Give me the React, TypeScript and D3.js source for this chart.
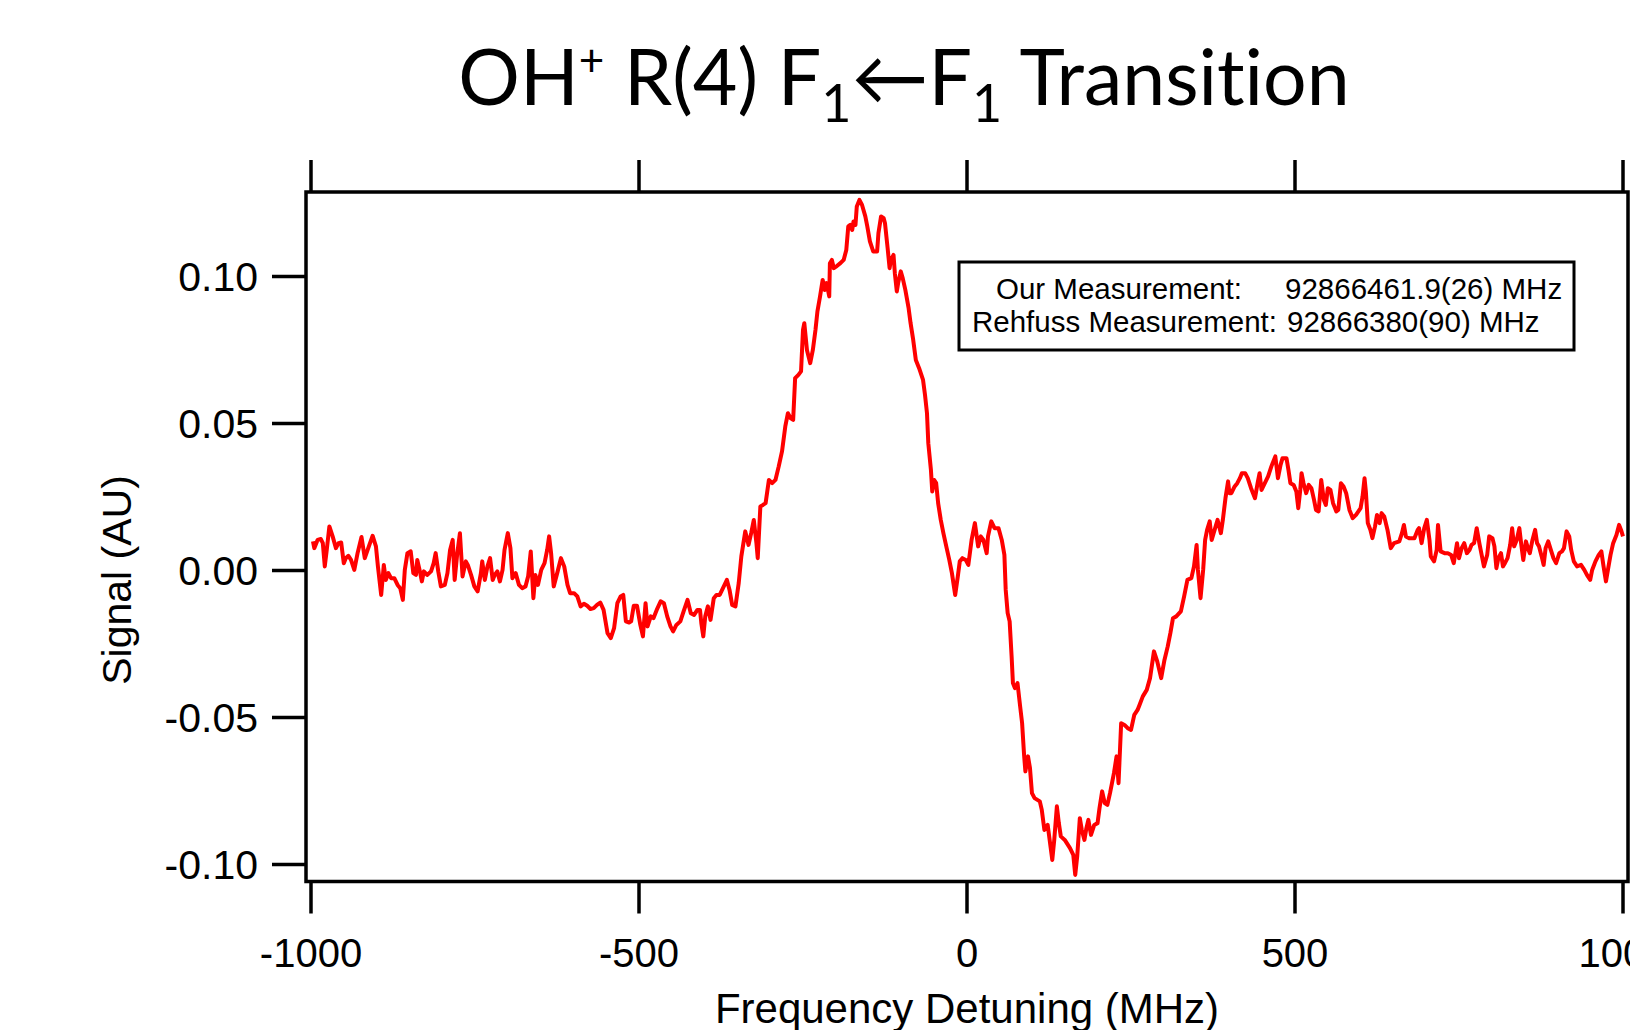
import React, { useEffect, useRef } from 'react';
import * as d3 from 'd3';

// [frequency detuning (MHz), signal (AU)]
const trace: [number, number][] = [
  [-997, 0.0099], [-995, 0.0076], [-990, 0.0104], [-985, 0.0107], [-982, 0.0093], [-979, 0.0014],
  [-976, 0.007], [-972, 0.015], [-967, 0.0116], [-962, 0.0076], [-958, 0.0093], [-954, 0.0095],
  [-950, 0.0025], [-947, 0.0042], [-943, 0.005], [-939, 0.0036], [-934, 0.0002], [-929, 0.0059],
  [-923, 0.0114], [-918, 0.0042], [-911, 0.0087], [-906, 0.0118], [-901, 0.0082], [-898, 0.0014],
  [-893, -0.0083], [-889, 0.0019], [-886, -0.0032], [-882, -0.0009], [-878, -0.0026], [-873, -0.0026],
  [-868, -0.0049], [-864, -0.006], [-860, -0.01], [-857, 0.0002], [-853, 0.0059], [-848, 0.0065],
  [-844, -0.0009], [-840, -0.0015], [-838, 0.0036], [-834, -0.0003], [-831, -0.0037], [-828, -0.0003],
  [-823, -0.0015], [-817, -0.0003], [-813, 0.0025], [-810, 0.0059], [-806, -0.0003], [-802, -0.0054],
  [-796, -0.0049], [-792, -0.0009], [-788, 0.007], [-784, 0.0104], [-781, -0.0032], [-777, 0.0059],
  [-773, 0.0127], [-769, -0.002], [-764, 0.0031], [-761, 0.0019], [-756, -0.0015], [-751, -0.0054],
  [-746, -0.0071], [-741, -0.0009], [-739, 0.0031], [-735, -0.0032], [-731, 0.0014], [-727, 0.0042],
  [-723, -0.0032], [-720, -0.0015], [-716, -0.0003], [-712, -0.0037], [-708, 0.0002], [-705, 0.007],
  [-700, 0.0127], [-696, 0.0076], [-693, -0.0026], [-688, -0.0009], [-683, -0.0049], [-678, -0.006],
  [-673, -0.0054], [-669, -0.002], [-665, 0.0065], [-661, -0.0094], [-658, -0.0015], [-654, -0.0049],
  [-649, 0.0002], [-644, 0.0025], [-640, 0.007], [-637, 0.0116], [-634, 0.0059], [-630, -0.0054],
  [-624, -0.0003], [-619, 0.0042], [-614, 0.0014], [-609, -0.0049], [-605, -0.0077], [-599, -0.0077],
  [-594, -0.0088], [-589, -0.0122], [-584, -0.0113], [-579, -0.012], [-574, -0.0131], [-569, -0.0128],
  [-564, -0.0117], [-559, -0.0109], [-554, -0.0134], [-548, -0.0213], [-543, -0.023], [-538, -0.0196],
  [-533, -0.0111], [-528, -0.0088], [-524, -0.0083], [-520, -0.0173], [-515, -0.0177], [-512, -0.0173],
  [-508, -0.012], [-503, -0.012], [-498, -0.0185], [-494, -0.0224], [-490, -0.0111], [-487, -0.019],
  [-482, -0.0156], [-478, -0.0162], [-473, -0.0134], [-467, -0.0105], [-462, -0.0111], [-457, -0.0156],
  [-452, -0.019], [-448, -0.0207], [-443, -0.0185], [-437, -0.0173], [-432, -0.0139], [-426, -0.01],
  [-421, -0.0145], [-416, -0.0151], [-411, -0.0134], [-407, -0.0134], [-405, -0.0179], [-402, -0.0224],
  [-399, -0.0156], [-395, -0.0122], [-391, -0.0168], [-386, -0.0094], [-382, -0.0083], [-377, -0.0083],
  [-372, -0.006], [-366, -0.0032], [-362, -0.0066], [-358, -0.0117], [-353, -0.0122], [-348, -0.0043],
  [-344, 0.0048], [-338, 0.0133], [-333, 0.0087], [-329, 0.0127], [-325, 0.0172], [-321, 0.0093],
  [-319, 0.0042], [-315, 0.0218], [-311, 0.0223], [-307, 0.0229], [-302, 0.0308], [-297, 0.0297],
  [-292, 0.0308], [-287, 0.0354], [-282, 0.0405], [-277, 0.049], [-273, 0.0535], [-269, 0.0518],
  [-265, 0.0512], [-262, 0.0654], [-257, 0.0665], [-253, 0.0677], [-250, 0.0818], [-248, 0.0841],
  [-244, 0.075], [-239, 0.0705], [-235, 0.075], [-231, 0.0818], [-228, 0.0881], [-224, 0.0932],
  [-220, 0.0988], [-217, 0.0954], [-214, 0.0977], [-210, 0.0932], [-209, 0.1045], [-206, 0.1056],
  [-203, 0.1028], [-198, 0.1036], [-193, 0.1045], [-188, 0.1056], [-184, 0.109], [-181, 0.117],
  [-178, 0.1175], [-175, 0.1158], [-173, 0.1187], [-170, 0.1175], [-168, 0.1238], [-164, 0.126],
  [-160, 0.1243], [-155, 0.1204], [-152, 0.117], [-148, 0.1119], [-143, 0.1085], [-137, 0.1085],
  [-135, 0.1147], [-131, 0.1204], [-127, 0.1198], [-125, 0.1181], [-121, 0.1096], [-118, 0.1028],
  [-116, 0.1056], [-112, 0.1073], [-110, 0.1011], [-107, 0.0949], [-105, 0.0977], [-101, 0.1017],
  [-98, 0.0994], [-94, 0.0954], [-89, 0.0892], [-86, 0.0841], [-82, 0.0784], [-78, 0.0716],
  [-73, 0.0688], [-67, 0.0648], [-64, 0.0597], [-61, 0.0535], [-59, 0.0433], [-55, 0.0342],
  [-53, 0.0269], [-50, 0.0308], [-47, 0.0297], [-44, 0.0229], [-40, 0.0172], [-36, 0.0127],
  [-31, 0.0076], [-27, 0.0036], [-23, -0.0009], [-18, -0.0083], [-14, -0.002], [-11, 0.0031],
  [-7, 0.0042], [-2, 0.0036], [2, 0.0019], [7, 0.0104], [12, 0.0161], [17, 0.0082],
  [21, 0.0116], [25, 0.0104], [30, 0.0059], [32, 0.0116], [37, 0.0167], [42, 0.0144],
  [48, 0.0144], [53, 0.0104], [57, 0.0053], [59, -0.0066], [62, -0.0145], [65, -0.0173],
  [68, -0.0292], [70, -0.0383], [73, -0.04], [77, -0.0383], [81, -0.0462], [84, -0.0519],
  [87, -0.0627], [89, -0.0683], [93, -0.0632], [96, -0.0672], [99, -0.0757], [103, -0.0774],
  [111, -0.0785], [114, -0.0814], [118, -0.0882], [123, -0.0865], [126, -0.0916], [130, -0.0984],
  [133, -0.0916], [137, -0.0802], [140, -0.0859], [143, -0.0904], [149, -0.0916], [157, -0.0944],
  [162, -0.0967], [165, -0.1035], [168, -0.0972], [172, -0.0842], [175, -0.0882], [179, -0.0916],
  [182, -0.0876], [185, -0.0848], [189, -0.0899], [194, -0.0865], [199, -0.0859], [202, -0.0808],
  [206, -0.0751], [210, -0.0791], [214, -0.0797], [218, -0.0757], [221, -0.0723], [224, -0.0689],
  [228, -0.0632], [231, -0.0723], [235, -0.0519], [240, -0.0525], [245, -0.0536], [250, -0.0542],
  [255, -0.0491], [260, -0.0474], [263, -0.0457], [268, -0.0428], [274, -0.0406], [279, -0.0366],
  [285, -0.0275], [290, -0.0309], [296, -0.0366], [301, -0.0304], [306, -0.0258], [310, -0.0213],
  [314, -0.0162], [319, -0.0156], [326, -0.0139], [331, -0.0088], [336, -0.0032], [342, -0.0026],
  [346, 0.0014], [350, 0.0087], [352, 0.0002], [356, -0.0094], [360, 0.0002], [363, 0.0104],
  [366, 0.0138], [370, 0.0167], [373, 0.0104], [376, 0.0127], [382, 0.0172], [387, 0.0127],
  [390, 0.0172], [394, 0.0246], [398, 0.0303], [400, 0.0263], [403, 0.0263], [408, 0.0286],
  [412, 0.0297], [416, 0.0314], [419, 0.0331], [424, 0.0331], [428, 0.0314], [433, 0.028],
  [439, 0.0246], [443, 0.0297], [446, 0.0331], [449, 0.0274], [454, 0.0297], [459, 0.032],
  [464, 0.0354], [470, 0.0388], [474, 0.0314], [478, 0.0359], [481, 0.0382], [487, 0.0382],
  [490, 0.0342], [493, 0.0297], [498, 0.0291], [502, 0.0269], [505, 0.0212], [508, 0.0274],
  [510, 0.0331], [513, 0.0297], [517, 0.0263], [521, 0.0291], [525, 0.028], [529, 0.024],
  [532, 0.0206], [536, 0.0201], [540, 0.0308], [544, 0.024], [547, 0.0223], [550, 0.028],
  [554, 0.0274], [558, 0.0229], [563, 0.0201], [566, 0.0206], [570, 0.0297], [574, 0.0286],
  [578, 0.0263], [583, 0.0206], [588, 0.0178], [593, 0.0189], [600, 0.0212], [603, 0.0252],
  [606, 0.0314], [608, 0.0269], [611, 0.0161], [615, 0.0138], [618, 0.011], [622, 0.015],
  [625, 0.0189], [629, 0.0161], [632, 0.0195], [636, 0.0184], [641, 0.0138], [646, 0.0076],
  [651, 0.0093], [659, 0.0099], [663, 0.0127], [666, 0.0155], [669, 0.0116], [674, 0.011],
  [682, 0.011], [687, 0.0138], [689, 0.0144], [693, 0.0093], [697, 0.0144], [701, 0.0172],
  [705, 0.0104], [707, 0.0048], [712, 0.0031], [716, 0.007], [718, 0.0155], [722, 0.0065],
  [728, 0.0059], [733, 0.0059], [738, 0.0053], [742, 0.0025], [747, 0.0093], [750, 0.0042],
  [754, 0.0076], [758, 0.0093], [762, 0.0059], [766, 0.007], [769, 0.0087], [773, 0.0093],
  [777, 0.0144], [781, 0.0093], [784, 0.0059], [788, 0.0014], [793, 0.0053], [796, 0.0116],
  [801, 0.011], [804, 0.0082], [807, 0.0008], [810, 0.0042], [814, 0.0059], [817, 0.0014],
  [820, 0.0025], [824, 0.0042], [828, 0.0087], [831, 0.0144], [834, 0.0082], [838, 0.0104],
  [842, 0.0144], [845, 0.0087], [848, 0.0036], [852, 0.0099], [855, 0.0076], [858, 0.0059],
  [862, 0.0104], [866, 0.0138], [869, 0.0093], [872, 0.0082], [876, 0.0048], [879, 0.0019],
  [882, 0.0076], [886, 0.0099], [890, 0.007], [894, 0.0042], [898, 0.0025], [903, 0.0059],
  [907, 0.0065], [910, 0.0076], [914, 0.0133], [918, 0.0116], [921, 0.007], [925, 0.0031],
  [930, 0.0014], [936, 0.0019], [941, 0.0002], [945, -0.0015], [950, -0.0032], [953, 0.0002],
  [958, 0.0031], [963, 0.0053], [967, 0.0065], [970, 0.0019], [974, -0.0037], [977, 0.0002],
  [981, 0.0053], [985, 0.0093], [990, 0.0121], [994, 0.0155], [997, 0.0138], [1000, 0.0116],
];

const xTicks = [-1000, -500, 0, 500, 1000];
const yTicks = [-0.1, -0.05, 0, 0.05, 0.1];

const legendLines = [
  { label: 'Our Measurement:', value: '92866461.9(26) MHz' },
  { label: 'Rehfuss Measurement:', value: '92866380(90) MHz' },
];

const W = 1630;
const H = 1030;
const sans = '"Liberation Sans", Arial, sans-serif';

// Igor prints a plain hyphen for negatives
const fmtY = (d: number) => d3.format('.2f')(d).replace('\u2212', '-');

function App() {
  const ref = useRef<SVGSVGElement>(null);

  useEffect(() => {
    const svg = d3.select(ref.current);
    svg.selectAll('*').remove();

    const x = d3.scaleLinear().domain([-1000, 1000]).range([311, 1623]);
    const y = d3.scaleLinear().domain([-0.1, 0.1]).range([864.6, 276.4]);

    // frame sits a few px outside the data range, like the original Igor plot
    const frame = { left: 306, right: 1628, top: 192, bottom: 881.5 };

    svg.append('rect').attr('width', W).attr('height', H).attr('fill', '#fff');

    // title
    const title = svg
      .append('text')
      .attr('x', 904)
      .attr('y', 105)
      .attr('text-anchor', 'middle')
      .attr('font-family', 'Lato, "Open Sans", sans-serif')
      .attr('font-size', 77)
      .style('font-variant-ligatures', 'none')
      .attr('fill', '#000');
    title.append('tspan').text('OH');
    title.append('tspan').attr('dy', -29).attr('font-size', 44).text('+');
    title.append('tspan').attr('dy', 29).text(' R(4) F');
    title.append('tspan').attr('dy', 17).attr('font-size', 52).text('1');
    title.append('tspan').attr('dy', -17).text('\u2190F');
    title.append('tspan').attr('dy', 17).attr('font-size', 52).text('1');
    title.append('tspan').attr('dy', -17).text(' Transition');

    // trace
    const line = d3
      .line<[number, number]>()
      .x((d) => x(d[0]))
      .y((d) => y(d[1]));

    svg
      .append('path')
      .datum(trace)
      .attr('fill', 'none')
      .attr('stroke', '#ff0000')
      .attr('stroke-width', 4)
      .attr('stroke-linejoin', 'round')
      .attr('d', line);

    // frame
    svg
      .append('rect')
      .attr('x', frame.left)
      .attr('y', frame.top)
      .attr('width', frame.right - frame.left)
      .attr('height', frame.bottom - frame.top)
      .attr('fill', 'none')
      .attr('stroke', '#000')
      .attr('stroke-width', 3.5);

    // x ticks top and bottom
    const xt = svg.append('g').attr('stroke', '#000').attr('stroke-width', 3.5);
    xt.selectAll('.tb')
      .data(xTicks)
      .join('line')
      .attr('x1', (d) => x(d))
      .attr('x2', (d) => x(d))
      .attr('y1', frame.bottom)
      .attr('y2', frame.bottom + 32);
    xt.selectAll('.tt')
      .data(xTicks)
      .join('line')
      .attr('x1', (d) => x(d))
      .attr('x2', (d) => x(d))
      .attr('y1', frame.top)
      .attr('y2', frame.top - 32);

    svg
      .append('g')
      .selectAll('text')
      .data(xTicks)
      .join('text')
      .attr('x', (d) => x(d))
      .attr('y', 967)
      .attr('text-anchor', 'middle')
      .attr('font-family', sans)
      .attr('font-size', 40)
      .text((d) => String(d));

    // y ticks
    svg
      .append('g')
      .selectAll('line')
      .data(yTicks)
      .join('line')
      .attr('x1', frame.left - 34)
      .attr('x2', frame.left)
      .attr('y1', (d) => y(d))
      .attr('y2', (d) => y(d))
      .attr('stroke', '#000')
      .attr('stroke-width', 3.5);

    svg
      .append('g')
      .selectAll('text')
      .data(yTicks)
      .join('text')
      .attr('x', 258)
      .attr('y', (d) => y(d))
      .attr('dy', '0.36em')
      .attr('text-anchor', 'end')
      .attr('font-family', sans)
      .attr('font-size', 41)
      .text(fmtY);

    // axis labels
    svg
      .append('text')
      .attr('x', 967)
      .attr('y', 1023)
      .attr('text-anchor', 'middle')
      .attr('font-family', sans)
      .attr('font-size', 42)
      .text('Frequency Detuning (MHz)');

    svg
      .append('text')
      .attr('transform', 'translate(131,580) rotate(-90)')
      .attr('text-anchor', 'middle')
      .attr('font-family', sans)
      .attr('font-size', 41)
      .text('Signal (AU)');

    // legend box
    const lg = svg.append('g');
    lg.append('rect')
      .attr('x', 959)
      .attr('y', 262)
      .attr('width', 615)
      .attr('height', 88)
      .attr('fill', '#fff')
      .attr('stroke', '#000')
      .attr('stroke-width', 3);
    const labelX = [996, 972];
    const valueX = [1285, 1287];
    lg.selectAll('.lbl')
      .data(legendLines)
      .join('text')
      .attr('x', (d, i) => labelX[i])
      .attr('y', (d, i) => 299 + i * 33)
      .attr('font-family', sans)
      .attr('font-size', 29.5)
      .text((d) => d.label);
    lg.selectAll('.val')
      .data(legendLines)
      .join('text')
      .attr('x', (d, i) => valueX[i])
      .attr('y', (d, i) => 299 + i * 33)
      .attr('font-family', sans)
      .attr('font-size', 29.5)
      .text((d) => d.value);
  }, []);

  return (
    <svg
      ref={ref}
      width={W}
      height={H}
      viewBox={`0 0 ${W} ${H}`}
      style={{ position: 'absolute', left: 0, top: 0, display: 'block' }}
    />
  );
}

export default App;
